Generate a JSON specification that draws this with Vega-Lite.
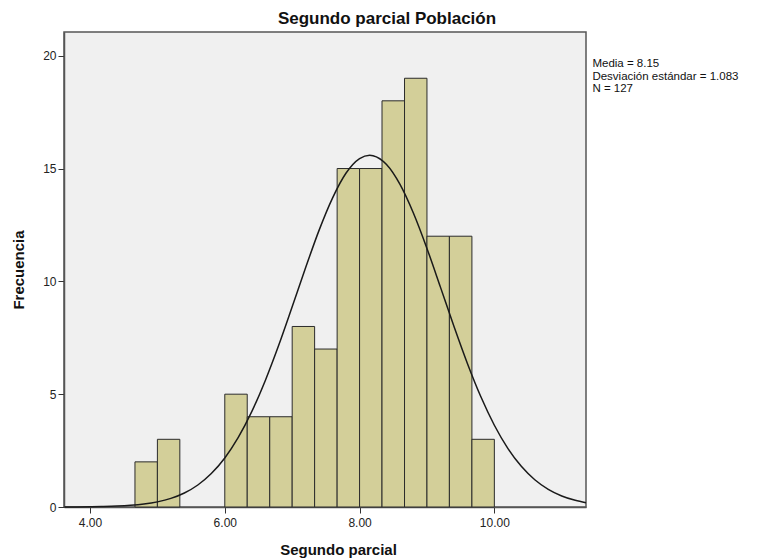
{
  "$schema": "https://vega.github.io/schema/vega-lite/v6.json",
  "autosize": "none",
  "width": 522,
  "height": 475,
  "padding": {"left": 64, "top": 32, "right": 186, "bottom": 53},
  "background": "white",
  "config": {
    "font": "Liberation Sans",
    "view": {"fill": "#F0F0F0", "stroke": "#555555", "strokeWidth": 1.5},
    "axis": {"grid": false, "labelFont": "Liberation Sans", "labelFontSize": 12, "labelColor": "#222222", "tickColor": "#333333", "domainColor": "#555555", "domainWidth": 1.5, "tickSize": 6, "titleFont": "Liberation Sans", "titleFontSize": 15, "titleFontWeight": "bold", "titleColor": "#111111"}
  },
  "title": {"text": "Segundo parcial Población", "font": "Liberation Sans", "fontSize": 17, "fontWeight": "bold", "color": "#111111", "anchor": "middle", "dx": 62, "offset": 4},
  "datasets": {
    "bars": [
      {"start": 4.667, "end": 5.0, "count": 2},
      {"start": 5.0, "end": 5.333, "count": 3},
      {"start": 6.0, "end": 6.333, "count": 5},
      {"start": 6.333, "end": 6.667, "count": 4},
      {"start": 6.667, "end": 7.0, "count": 4},
      {"start": 7.0, "end": 7.333, "count": 8},
      {"start": 7.333, "end": 7.667, "count": 7},
      {"start": 7.667, "end": 8.0, "count": 15},
      {"start": 8.0, "end": 8.333, "count": 15},
      {"start": 8.333, "end": 8.667, "count": 18},
      {"start": 8.667, "end": 9.0, "count": 19},
      {"start": 9.0, "end": 9.333, "count": 12},
      {"start": 9.333, "end": 9.667, "count": 12},
      {"start": 9.667, "end": 10.0, "count": 3}
    ],
    "curve": [
      {"x": 3.62, "y": 0.0025},
      {"x": 3.8, "y": 0.0049},
      {"x": 4.0, "y": 0.0101},
      {"x": 4.2, "y": 0.0201},
      {"x": 4.4, "y": 0.0388},
      {"x": 4.6, "y": 0.0724},
      {"x": 4.8, "y": 0.130},
      {"x": 5.0, "y": 0.227},
      {"x": 5.2, "y": 0.381},
      {"x": 5.4, "y": 0.620},
      {"x": 5.6, "y": 0.975},
      {"x": 5.8, "y": 1.481},
      {"x": 6.0, "y": 2.172},
      {"x": 6.2, "y": 3.082},
      {"x": 6.4, "y": 4.225},
      {"x": 6.6, "y": 5.598},
      {"x": 6.8, "y": 7.165},
      {"x": 7.0, "y": 8.872},
      {"x": 7.2, "y": 10.61},
      {"x": 7.4, "y": 12.27},
      {"x": 7.6, "y": 13.70},
      {"x": 7.8, "y": 14.80},
      {"x": 8.0, "y": 15.44},
      {"x": 8.15, "y": 15.59},
      {"x": 8.2, "y": 15.57},
      {"x": 8.4, "y": 15.18},
      {"x": 8.6, "y": 14.30},
      {"x": 8.8, "y": 13.02},
      {"x": 9.0, "y": 11.46},
      {"x": 9.2, "y": 9.744},
      {"x": 9.4, "y": 8.009},
      {"x": 9.6, "y": 6.362},
      {"x": 9.8, "y": 4.883},
      {"x": 10.0, "y": 3.624},
      {"x": 10.2, "y": 2.599},
      {"x": 10.4, "y": 1.801},
      {"x": 10.6, "y": 1.207},
      {"x": 10.8, "y": 0.781},
      {"x": 11.0, "y": 0.488},
      {"x": 11.2, "y": 0.295},
      {"x": 11.36, "y": 0.19}
    ],
    "stats": [
      {"label": "Media = 8.15\nDesviación estándar = 1.083\nN = 127"}
    ]
  },
  "layer": [
    {
      "data": {"name": "bars"},
      "mark": {"type": "rect", "fill": "#D3CF99", "stroke": "#2b2b2b", "strokeWidth": 1},
      "encoding": {
        "x": {"field": "start", "type": "quantitative", "scale": {"domain": [3.614, 11.36], "nice": false, "zero": false}, "axis": {"values": [4, 6, 8, 10], "format": ".2f", "title": "Segundo parcial", "titlePadding": 14, "labelPadding": 4, "titleX": 274}},
        "x2": {"field": "end"},
        "y": {"field": "count", "type": "quantitative", "scale": {"domain": [0, 21.05], "nice": false}, "axis": {"values": [0, 5, 10, 15, 20], "title": "Frecuencia", "titlePadding": 16, "labelPadding": 2}},
        "y2": {"datum": 0}
      }
    },
    {
      "data": {"name": "curve"},
      "mark": {"type": "line", "color": "#1a1a1a", "strokeWidth": 1.5, "interpolate": "monotone"},
      "encoding": {
        "x": {"field": "x", "type": "quantitative"},
        "y": {"field": "y", "type": "quantitative"}
      }
    },
    {
      "data": {"name": "stats"},
      "mark": {"type": "text", "align": "left", "baseline": "top", "lineBreak": "\n", "font": "Liberation Sans", "fontSize": 11.5, "color": "#111111", "clip": false, "lineHeight": 12.5},
      "encoding": {
        "x": {"datum": 11.455},
        "y": {"datum": 19.88},
        "text": {"field": "label"}
      }
    }
  ]
}
